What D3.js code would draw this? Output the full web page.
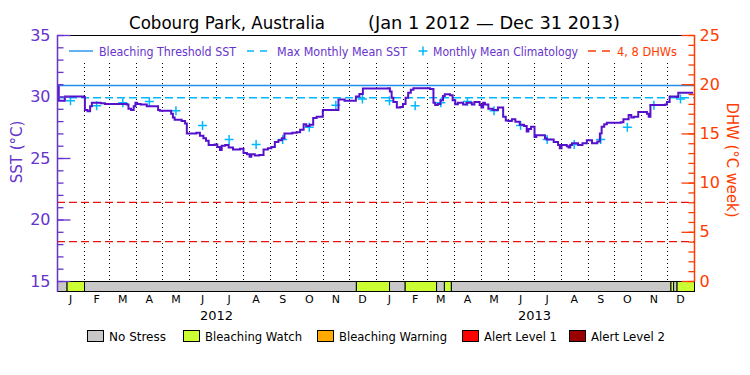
<!DOCTYPE html>
<html>
<head>
<meta charset="utf-8">
<script src="https://cdn.jsdelivr.net/npm/d3@7"></script>
<style>
  body { margin: 0; background: #fff; }
  svg { display: block; }
  text { font-family: "DejaVu Sans", sans-serif; }
</style>
</head>
<body>
<script>
// daily SST (°C)
var sst = [
  ["2012-01-01", 30.8], ["2012-01-03", 29.65], ["2012-01-10", 30.0], ["2012-01-31", 29.95],
  ["2012-02-02", 28.9], ["2012-02-05", 28.8], ["2012-02-08", 29.2], ["2012-02-10", 29.5],
  ["2012-02-20", 29.45], ["2012-02-25", 29.4], ["2012-03-21", 29.35], ["2012-03-23", 29.0],
  ["2012-03-26", 28.9], ["2012-03-29", 29.2], ["2012-03-31", 29.5], ["2012-04-02", 29.4],
  ["2012-04-06", 29.35], ["2012-04-13", 29.2], ["2012-04-26", 28.9], ["2012-04-28", 28.85],
  ["2012-05-11", 28.6], ["2012-05-13", 28.3], ["2012-05-15", 28.1], ["2012-05-23", 28.0],
  ["2012-05-27", 27.8], ["2012-05-29", 27.0], ["2012-06-09", 27.05], ["2012-06-13", 26.8],
  ["2012-06-17", 26.6], ["2012-06-20", 26.4], ["2012-06-23", 26.05], ["2012-06-30", 26.1],
  ["2012-07-03", 25.9], ["2012-07-06", 25.65], ["2012-07-08", 26.0], ["2012-07-12", 26.05],
  ["2012-07-16", 25.85], ["2012-07-21", 25.7], ["2012-07-29", 25.75], ["2012-08-02", 25.4],
  ["2012-08-06", 25.3], ["2012-08-09", 25.1], ["2012-08-11", 25.3], ["2012-08-15", 25.2],
  ["2012-08-20", 25.25], ["2012-08-25", 25.7], ["2012-08-30", 25.8], ["2012-09-03", 25.9],
  ["2012-09-07", 26.3], ["2012-09-11", 26.45], ["2012-09-15", 26.6], ["2012-09-18", 27.0],
  ["2012-09-27", 27.05], ["2012-10-02", 27.1], ["2012-10-06", 27.3], ["2012-10-10", 27.75],
  ["2012-10-13", 27.6], ["2012-10-17", 27.7], ["2012-10-21", 28.25], ["2012-10-25", 28.35],
  ["2012-11-01", 28.9], ["2012-11-19", 29.75], ["2012-11-26", 29.65], ["2012-12-09", 30.0],
  ["2012-12-13", 30.2], ["2012-12-17", 30.65], ["2013-01-15", 30.67], ["2013-01-17", 30.4],
  ["2013-01-19", 29.9], ["2013-01-21", 29.55], ["2013-01-25", 29.1], ["2013-01-29", 29.15],
  ["2013-02-01", 29.4], ["2013-02-04", 29.9], ["2013-02-07", 30.3], ["2013-02-10", 30.55],
  ["2013-02-13", 30.67], ["2013-03-04", 30.6], ["2013-03-08", 29.5], ["2013-03-10", 29.3],
  ["2013-03-13", 29.4], ["2013-03-16", 29.7], ["2013-03-19", 30.05], ["2013-03-21", 30.18],
  ["2013-03-27", 30.1], ["2013-03-30", 29.7], ["2013-04-02", 29.36], ["2013-04-05", 29.5],
  ["2013-04-11", 29.35], ["2013-04-15", 29.5], ["2013-04-21", 29.35], ["2013-04-24", 29.55],
  ["2013-04-30", 29.3], ["2013-05-02", 29.1], ["2013-05-04", 29.5], ["2013-05-06", 29.35],
  ["2013-05-10", 29.0], ["2013-05-15", 28.9], ["2013-05-21", 29.1], ["2013-05-27", 28.35],
  ["2013-05-30", 28.05], ["2013-06-02", 28.0], ["2013-06-06", 28.15], ["2013-06-10", 27.95],
  ["2013-06-15", 27.7], ["2013-06-20", 27.6], ["2013-06-23", 27.15], ["2013-06-25", 27.35],
  ["2013-06-28", 27.55], ["2013-07-02", 26.7], ["2013-07-04", 26.85], ["2013-07-14", 26.6],
  ["2013-07-16", 26.5], ["2013-07-24", 26.3], ["2013-07-29", 26.05], ["2013-07-31", 25.8],
  ["2013-08-02", 26.05], ["2013-08-08", 25.95], ["2013-08-10", 25.85], ["2013-08-12", 26.05],
  ["2013-08-14", 26.2], ["2013-08-21", 26.05], ["2013-08-26", 26.2], ["2013-08-31", 26.45],
  ["2013-09-06", 26.2], ["2013-09-12", 26.35], ["2013-09-15", 27.0], ["2013-09-17", 27.55],
  ["2013-09-20", 27.75], ["2013-09-23", 27.87], ["2013-10-09", 27.9], ["2013-10-12", 28.15],
  ["2013-10-18", 28.5], ["2013-10-21", 28.3], ["2013-10-24", 28.35], ["2013-10-29", 28.75],
  ["2013-11-08", 28.6], ["2013-11-10", 28.35], ["2013-11-12", 29.3], ["2013-11-29", 29.35],
  ["2013-12-01", 29.55], ["2013-12-04", 30.0], ["2013-12-12", 29.95], ["2013-12-14", 30.3],
  ["2013-12-31", 30.3]
];

// monthly mean climatology, Jan..Dec
var climatology = [29.65, 29.25, 29.5, 29.6, 28.85, 27.65, 26.5, 26.1, 26.5, 27.5, 29.28, 29.8];
var mmm = 29.9;
var bleachingThreshold = 30.9;
var dhwLevels = [4, 8];

// bleaching status bar: [from, to, level]
var statusSpans = [
  ["2012-01-01", "2012-01-12", 0], ["2012-01-12", "2012-02-01", 1],
  ["2012-02-01", "2012-12-09", 0], ["2012-12-09", "2013-01-16", 1],
  ["2013-01-16", "2013-02-03", 0], ["2013-02-03", "2013-03-11", 1],
  ["2013-03-11", "2013-03-20", 0], ["2013-03-20", "2013-03-28", 1],
  ["2013-03-28", "2013-12-05", 0], ["2013-12-05", "2013-12-08", 1],
  ["2013-12-08", "2013-12-12", 0], ["2013-12-12", "2014-01-01", 1]
];
var statusLabels = ["No Stress", "Bleaching Watch", "Bleaching Warning", "Alert Level 1", "Alert Level 2"];
var monthLetters = ["J", "F", "M", "A", "M", "J", "J", "A", "S", "O", "N", "D"];
var years = [2012, 2013];
var sstTicks = [15, 20, 25, 30, 35];
var dhwTicks = [0, 5, 10, 15, 20, 25];

var statusColors = ["#c8c8c8", "#ccff33", "#ffaa00", "#ff0000", "#990000"];
var purple = "#6633cc", lineColor = "#5511cc", orange = "#ff3c00";
var blue = "#2090ee", cyan = "#00b8ff";

var w = 750, h = 375;
var svg = d3.select("body").append("svg").attr("width", w).attr("height", h);
var parse = d3.timeParse("%Y-%m-%d");

var plotL = 57, plotR = 694, plotT = 35, plotB = 281, barH = 10;
var x = d3.scaleTime().domain([new Date(2012, 0, 1), new Date(2014, 0, 1)]).range([plotL, plotR]);
var y = d3.scaleLinear().domain([15, 35]).range([plotB, plotT]);
var yd = d3.scaleLinear().domain([0, 25]).range([plotB, plotT]);

// title
svg.append("text").attr("x", 129).attr("y", 29).attr("font-size", 17)
  .attr("textLength", 196).attr("lengthAdjust", "spacingAndGlyphs")
  .text("Cobourg Park, Australia");
svg.append("text").attr("x", 368).attr("y", 29).attr("font-size", 17)
  .attr("textLength", 252).attr("lengthAdjust", "spacingAndGlyphs")
  .text("(Jan 1 2012 \u2014 Dec 31 2013)");

// month grid
var months = d3.timeMonth.range(new Date(2012, 1, 1), new Date(2014, 0, 1));
svg.append("g").selectAll("line").data(months).enter().append("line")
  .attr("x1", d => Math.round(x(d)) + 0.5).attr("x2", d => Math.round(x(d)) + 0.5)
  .attr("y1", 63).attr("y2", plotB)
  .attr("stroke", "#000").attr("stroke-dasharray", "1,3");

// reference lines
svg.append("line").attr("x1", plotL).attr("x2", plotR)
  .attr("y1", y(bleachingThreshold)).attr("y2", y(bleachingThreshold))
  .attr("stroke", blue).attr("stroke-width", 1.4);
svg.append("line").attr("x1", plotL).attr("x2", plotR)
  .attr("y1", y(mmm)).attr("y2", y(mmm))
  .attr("stroke", cyan).attr("stroke-width", 1.4).attr("stroke-dasharray", "8,4");
svg.append("g").selectAll("line").data(dhwLevels).enter().append("line")
  .attr("x1", plotL).attr("x2", plotR)
  .attr("y1", d => yd(d)).attr("y2", d => yd(d))
  .attr("stroke", "#ee1111").attr("stroke-width", 1.3).attr("stroke-dasharray", "8,4");

// climatology crosses
var clim = [];
years.forEach(yr => climatology.forEach((v, m) => {
  var s = new Date(yr, m, 1), e = new Date(yr, m + 1, 1);
  clim.push({ date: new Date((+s + +e) / 2), v: v });
}));
svg.append("g").selectAll("path").data(clim).enter().append("path")
  .attr("transform", d => "translate(" + [x(d.date), y(d.v)] + ")")
  .attr("d", "M-4.5,0H4.5M0,-4.5V4.5")
  .attr("stroke", cyan).attr("stroke-width", 1.5).attr("fill", "none");

// SST line
var line = d3.line().x(d => x(parse(d[0]))).y(d => y(d[1])).curve(d3.curveStepAfter);
svg.append("path").datum(sst).attr("d", line)
  .attr("fill", "none").attr("stroke", lineColor).attr("stroke-width", 2);

// status bar
svg.append("g").selectAll("rect").data(statusSpans).enter().append("rect")
  .attr("x", d => x(parse(d[0])) + 0.5)
  .attr("width", d => x(parse(d[1])) - x(parse(d[0])))
  .attr("y", plotB + 0.5).attr("height", barH)
  .attr("fill", d => statusColors[d[2]]).attr("stroke", "#000");

// frame
svg.append("line").attr("x1", plotL).attr("x2", plotR).attr("y1", plotT + 0.5).attr("y2", plotT + 0.5)
  .attr("stroke", "#000");

// left axis
var gl = svg.append("g").attr("transform", "translate(" + (plotL + 0.5) + ",0)");
gl.call(d3.axisLeft(y).tickValues(d3.range(15, 36)).tickSize(-6).tickFormat(""));
gl.append("g").call(d3.axisLeft(y).tickValues(sstTicks).tickSize(-13).tickPadding(7));
gl.selectAll(".domain").remove();
gl.selectAll("line").attr("stroke", purple).attr("stroke-width", 1.3);
gl.selectAll("text").attr("fill", purple).attr("font-size", 16).attr("font-family", "DejaVu Sans");
gl.append("line").attr("y1", plotT).attr("y2", plotB + barH + 1).attr("stroke", purple).attr("stroke-width", 1.5);

// right axis
var gr = svg.append("g").attr("transform", "translate(" + (plotR + 0.5) + ",0)");
gr.call(d3.axisRight(yd).tickValues(d3.range(0, 26)).tickSize(-6).tickFormat(""));
gr.append("g").call(d3.axisRight(yd).tickValues(dhwTicks).tickSize(-13).tickPadding(5));
gr.selectAll(".domain").remove();
gr.selectAll("line").attr("stroke", orange).attr("stroke-width", 1.3);
gr.selectAll("text").attr("fill", orange).attr("font-size", 16).attr("font-family", "DejaVu Sans");
gr.append("line").attr("y1", plotT).attr("y2", plotB).attr("stroke", orange).attr("stroke-width", 1.5);

// axis titles
svg.append("text").attr("transform", "translate(16.5,152) rotate(-90)")
  .attr("text-anchor", "middle").attr("dominant-baseline", "central")
  .attr("font-size", 15).attr("fill", purple).text("SST (\u00B0C)");
svg.append("text").attr("transform", "translate(732,160) rotate(90)")
  .attr("text-anchor", "middle").attr("dominant-baseline", "central")
  .attr("font-size", 15).attr("fill", orange)
  .attr("textLength", 115).attr("lengthAdjust", "spacingAndGlyphs").text("DHW (\u00B0C week)");

// month letters and years
var allMonths = d3.timeMonth.range(new Date(2012, 0, 1), new Date(2014, 0, 1));
svg.append("g").selectAll("text").data(allMonths).enter().append("text")
  .attr("x", d => x(new Date((+d + +d3.timeMonth.offset(d, 1)) / 2)))
  .attr("y", 303).attr("text-anchor", "middle").attr("font-size", 11)
  .text(d => monthLetters[d.getMonth()]);
svg.append("g").selectAll("text").data(years).enter().append("text")
  .attr("x", d => x(new Date(d, 6, 2))).attr("y", 320)
  .attr("text-anchor", "middle").attr("font-size", 13).text(d => d);

// top legend
var lg = svg.append("g").attr("font-size", 11.5);
lg.append("line").attr("x1", 69).attr("x2", 93).attr("y1", 51).attr("y2", 51).attr("stroke", blue).attr("stroke-width", 1.4);
lg.append("text").attr("x", 99).attr("y", 55.5).attr("fill", purple)
  .attr("textLength", 137).attr("lengthAdjust", "spacingAndGlyphs").text("Bleaching Threshold SST");
lg.append("line").attr("x1", 247).attr("x2", 268).attr("y1", 51).attr("y2", 51).attr("stroke", cyan)
  .attr("stroke-width", 1.4).attr("stroke-dasharray", "7,6");
lg.append("text").attr("x", 277).attr("y", 55.5).attr("fill", purple)
  .attr("textLength", 130).attr("lengthAdjust", "spacingAndGlyphs").text("Max Monthly Mean SST");
lg.append("path").attr("d", "M418.5,51H427.5M423,46.5V55.5").attr("stroke", cyan).attr("stroke-width", 1.5);
lg.append("text").attr("x", 433).attr("y", 55.5).attr("fill", purple)
  .attr("textLength", 145).attr("lengthAdjust", "spacingAndGlyphs").text("Monthly Mean Climatology");
lg.append("line").attr("x1", 588).attr("x2", 612).attr("y1", 51).attr("y2", 51).attr("stroke", orange)
  .attr("stroke-width", 1.4).attr("stroke-dasharray", "8,6");
lg.append("text").attr("x", 617).attr("y", 55.5).attr("fill", orange)
  .attr("textLength", 60).attr("lengthAdjust", "spacingAndGlyphs").text("4, 8 DHWs");

// status legend
var boxX = [87, 183, 317, 462, 569];
var labW = [57, 97, 108, 73, 74];
var sl = svg.append("g").selectAll("g").data(statusLabels).enter().append("g")
  .attr("transform", (d, i) => "translate(" + boxX[i] + ",330)");
sl.append("rect").attr("x", 0.5).attr("y", 0.5).attr("width", 16).attr("height", 11)
  .attr("fill", (d, i) => statusColors[i]).attr("stroke", "#000");
sl.append("text").attr("x", 22).attr("y", 11).attr("font-size", 12.5)
  .attr("textLength", (d, i) => labW[i]).attr("lengthAdjust", "spacingAndGlyphs").text(d => d);
</script>
</body>
</html>
